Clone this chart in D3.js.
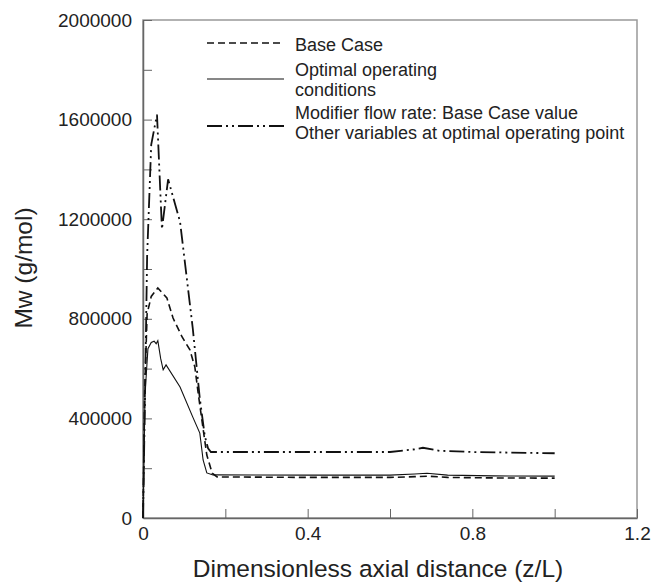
<!DOCTYPE html>
<html>
<head>
<meta charset="utf-8">
<script src="https://cdn.jsdelivr.net/npm/d3@7"></script>
<style>
body { margin: 0; background: #fff; }
text { font-family: "Liberation Sans", Arial, sans-serif; fill: #222; }
</style>
</head>
<body>
<svg id="chart" width="655" height="582"></svg>
<script>
// axial distance (z/L) and Mw (g/mol)
var baseZ  = [0, 0.004, 0.01, 0.02, 0.036, 0.058, 0.073, 0.095, 0.114, 0.126, 0.134, 0.145, 0.155, 0.168, 0.18, 0.4, 0.6, 0.66, 0.69, 0.74, 0.85, 1.0];
var baseMw = [0, 500000, 820000, 890000, 924000, 884000, 803000, 727000, 675000, 606000, 502000, 370000, 253000, 180000, 165000, 163000, 163000, 166000, 168000, 163000, 161000, 160000];

var optZ  = [0, 0.005, 0.012, 0.02, 0.027, 0.032, 0.036, 0.043, 0.049, 0.056, 0.09, 0.121, 0.138, 0.146, 0.155, 0.17, 0.4, 0.6, 0.66, 0.69, 0.74, 0.85, 1.0];
var optMw = [0, 500000, 680000, 705000, 710000, 700000, 712000, 640000, 595000, 615000, 526000, 405000, 341000, 233000, 181000, 173000, 172000, 172000, 177000, 180000, 172000, 169000, 168000];

var modZ  = [0, 0.005, 0.01, 0.02, 0.034, 0.046, 0.061, 0.09, 0.121, 0.138, 0.15, 0.158, 0.165, 0.4, 0.6, 0.66, 0.68, 0.72, 0.8, 1.0];
var modMw = [0, 500000, 1050000, 1500000, 1620000, 1160000, 1360000, 1190000, 760000, 480000, 330000, 280000, 265000, 265000, 265000, 276000, 282000, 270000, 265000, 260000];

var xTicks = [0, 0.2, 0.4, 0.6, 0.8, 1.0, 1.2];
var xLabels = [0, 0.4, 0.8, 1.2];
var yTicks = [0, 200000, 400000, 600000, 800000, 1000000, 1200000, 1400000, 1600000, 1800000, 2000000];
var yLabels = [0, 400000, 800000, 1200000, 1600000, 2000000];

var legendNames = [["Base Case"], ["Optimal operating", "conditions"], ["Modifier flow rate: Base Case value", "Other variables at optimal operating point"]];

var svg = d3.select("#chart");
var margin = {left: 143, top: 20, right: 18, bottom: 64};
var width = 655 - margin.left - margin.right,
    height = 582 - margin.top - margin.bottom;

var x = d3.scaleLinear().domain([0, 1.2]).range([0, width]);
var y = d3.scaleLinear().domain([0, 2000000]).range([height, 0]);

var g = svg.append("g").attr("transform", "translate(" + margin.left + "," + margin.top + ")");

// frame
g.append("rect")
    .attr("width", width).attr("height", height)
    .attr("fill", "none").attr("stroke", "#999").attr("stroke-width", 1.5);

var axisColor = "#666";

var xAxis = g.append("g").attr("transform", "translate(0," + height + ")")
    .call(d3.axisBottom(x).tickValues(xTicks).tickSizeInner(-9).tickSizeOuter(0)
        .tickFormat(function(d) { return xLabels.indexOf(d) >= 0 ? d3.format("")(d) : ""; }));
xAxis.select(".domain").attr("stroke", axisColor).attr("stroke-width", 1.5);
xAxis.selectAll(".tick line").attr("stroke", axisColor);
xAxis.selectAll(".tick text").attr("y", 9).attr("dy", "0.71em").style("font-size", "19px").attr("fill", "#222");

var yAxis = g.append("g")
    .call(d3.axisLeft(y).tickValues(yTicks).tickSizeInner(-9).tickSizeOuter(0)
        .tickFormat(function(d) { return yLabels.indexOf(d) >= 0 ? d : ""; }));
yAxis.select(".domain").attr("stroke", axisColor).attr("stroke-width", 1.5);
yAxis.selectAll(".tick line").attr("stroke", axisColor);
yAxis.selectAll(".tick text").attr("x", -11).style("font-size", "19px").attr("fill", "#222");

// axis titles
svg.append("text")
    .attr("x", 378).attr("y", 577)
    .attr("text-anchor", "middle").style("font-size", "24.5px")
    .text("Dimensionless axial distance (z/L)");

svg.append("text")
    .attr("transform", "translate(32,268) rotate(-90)")
    .attr("text-anchor", "middle").style("font-size", "24.5px")
    .text("Mw (g/mol)");

var dashStyles = ["7,4", null, "15,4,2,4,2,4"];
var widths = [1.6, 1.1, 1.8];

var series = [
    {z: baseZ, mw: baseMw},
    {z: optZ, mw: optMw},
    {z: modZ, mw: modMw}
];

var line = d3.line()
    .x(function(d) { return x(d[0]); })
    .y(function(d) { return y(d[1]); });

series.forEach(function(s, i) {
    var pts = s.z.map(function(v, j) { return [v, s.mw[j]]; });
    g.append("path")
        .datum(pts)
        .attr("d", line)
        .attr("fill", "none")
        .attr("stroke", "#111")
        .attr("stroke-width", widths[i])
        .attr("stroke-dasharray", dashStyles[i]);
});

// legend
var legendLineY = [43, 79, 126];
var legendTextY = [45, 70, 113];
var leg = svg.append("g");
legendNames.forEach(function(names, i) {
    leg.append("line")
        .attr("x1", 207).attr("x2", 284)
        .attr("y1", legendLineY[i]).attr("y2", legendLineY[i])
        .attr("stroke", "#111")
        .attr("stroke-width", widths[i])
        .attr("stroke-dasharray", dashStyles[i]);
    names.forEach(function(n, k) {
        leg.append("text")
            .attr("x", 295).attr("y", legendTextY[i] + k * 20)
            .attr("dy", "0.35em")
            .style("font-size", "18px")
            .text(n);
    });
});
</script>
</body>
</html>
